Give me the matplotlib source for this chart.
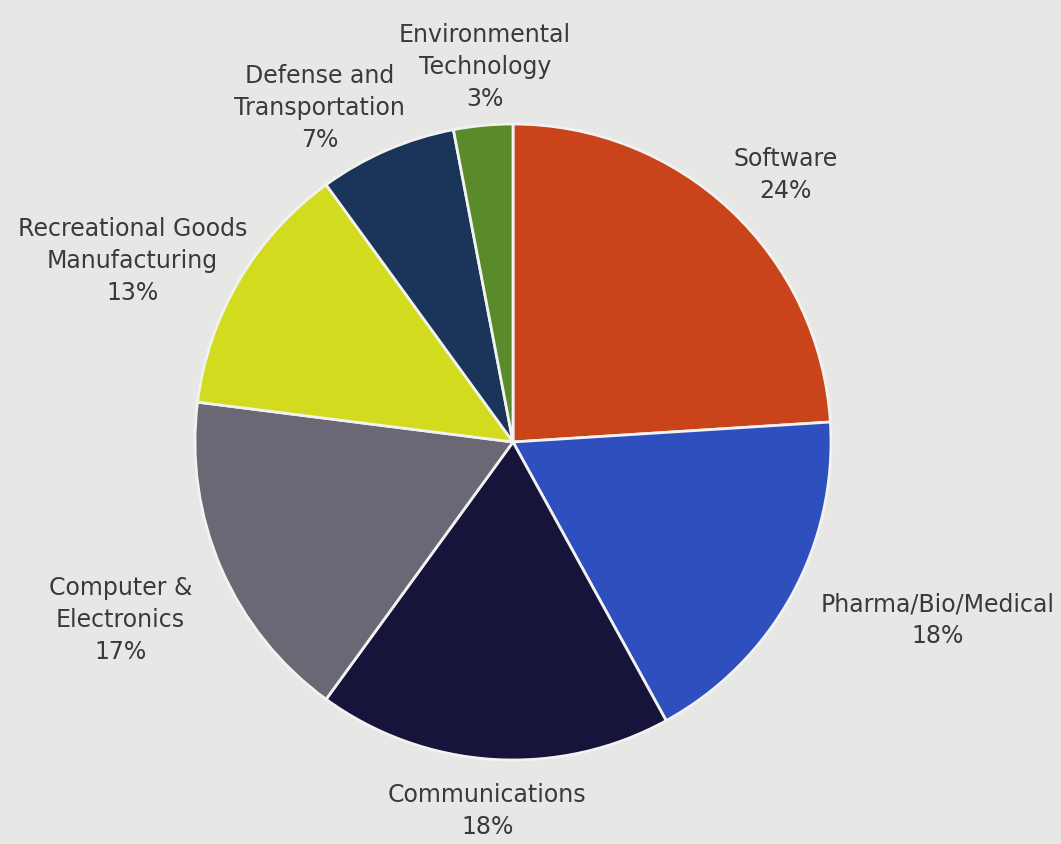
import matplotlib
matplotlib.use("Agg")
import matplotlib.pyplot as plt

# Chart data.
categories = ["Software", "Pharma/Bio/Medical", "Communications", "Computer &\nElectronics",
              "Recreational Goods\nManufacturing", "Defense and\nTransportation",
              "Environmental\nTechnology"]
shares = [24, 18, 18, 17, 13, 7, 3]
colors = ["#c9441b", "#2f4fbf", "#17143b", "#6b6876", "#d3db1f", "#1b3459", "#5b8a2b"]

# Label centres in axes units (pie radius = 1).
label_pos = [(0.856, 0.84), (1.336, -0.56), (-0.081, -1.16), (-1.234, -0.56),
             (-1.197, 0.57), (-0.609, 1.05), (-0.0875, 1.18)]

bg = "#e7e7e5"
W, H = 1061, 844
fig = plt.figure(figsize=(W / 100, H / 100), dpi=100, facecolor=bg)

# Pie centre and radius in pixels.
cx, cy, r = 513, 442, 318
ax = fig.add_axes([(cx - r) / W, (H - cy - r) / H, 2 * r / W, 2 * r / H])
ax.set_facecolor(bg)

ax.pie(shares, colors=colors, startangle=90, counterclock=False, radius=1,
       wedgeprops=dict(edgecolor="#f2f2f0", linewidth=2))
ax.set_xlim(-1, 1)
ax.set_ylim(-1, 1)
ax.set_aspect("equal")
ax.axis("off")

for name, val, (x, y) in zip(categories, shares, label_pos):
    ax.text(x, y, f"{name}\n{val}%", ha="center", va="center", fontsize=17,
            family="DejaVu Sans", color="#3a3a3c", linespacing=1.42, clip_on=False)

fig.savefig("out.png", dpi=100, facecolor=bg)
